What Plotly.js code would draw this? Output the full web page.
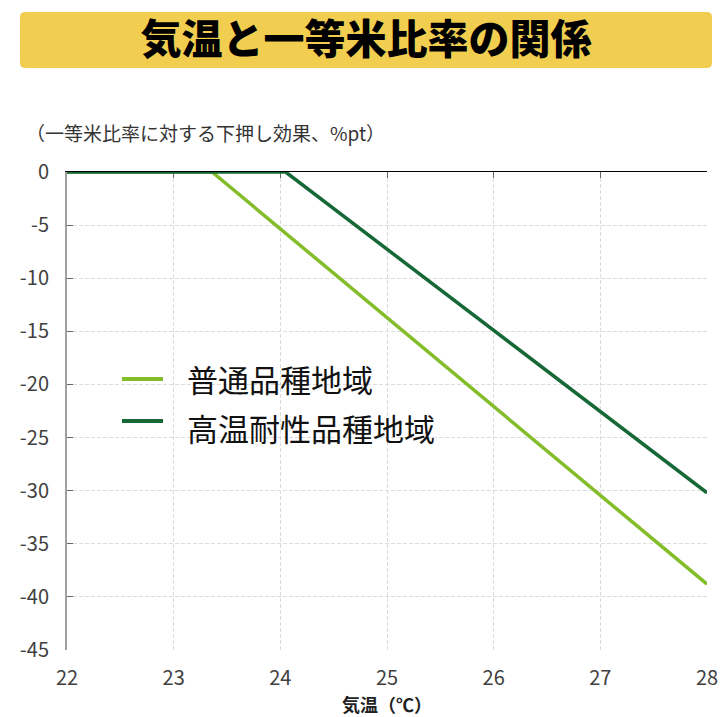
<!DOCTYPE html>
<html>
<head>
<meta charset="utf-8">
<script src="https://cdn.plot.ly/plotly-3.0.1.min.js"></script>
<style>
  html, body { margin: 0; padding: 0; background: #ffffff; }
  #chart { width: 727px; height: 717px; }
</style>
</head>
<body>
<div id="chart"></div>
<script>
// Temperature (°C) break points for each region type
const seriesNames = ['普通品種地域', '高温耐性品種地域'];
const tempNormal = [22, 23.36, 28];
const effectNormal = [0, 0, -38.8];
const tempTolerant = [22, 24.05, 28];
const effectTolerant = [0, 0, -30.2];
const xTicks = [22, 23, 24, 25, 26, 27, 28];
const yTicks = [0, -5, -10, -15, -20, -25, -30, -35, -40, -45];

const chartTitle = '気温と一等米比率の関係';
const yTitle = '（一等米比率に対する下押し効果、%pt）';
const xTitle = '気温（℃）';

const colors = ['#84bd2a', '#176837'];
const FONT = '"Noto Sans CJK JP", "Noto Sans", sans-serif';

// plot area geometry (px) used to place paper-referenced decorations
const W = 727, H = 717;
const M = { l: 67, r: 20, t: 172, b: 67 };
const PW = W - M.l - M.r, PH = H - M.t - M.b;
const px = x => (x - M.l) / PW;
const py = y => (H - M.b - y) / PH;

// rounded rectangle path in paper units
function roundRect(x0, y0, x1, y1, r) {
  const rx = r / PW, ry = r / PH;
  const L = px(x0), R = px(x1), T = py(y0), B = py(y1);
  return `M${L + rx},${T} L${R - rx},${T} Q${R},${T} ${R},${T - ry} ` +
         `L${R},${B + ry} Q${R},${B} ${R - rx},${B} L${L + rx},${B} ` +
         `Q${L},${B} ${L},${B + ry} L${L},${T - ry} Q${L},${T} ${L + rx},${T} Z`;
}

const traces = [
  { x: tempNormal, y: effectNormal, name: seriesNames[0], mode: 'lines',
    line: { color: colors[0], width: 3.5 }, hoverinfo: 'x+y' },
  { x: tempTolerant, y: effectTolerant, name: seriesNames[1], mode: 'lines',
    line: { color: colors[1], width: 3.5 }, hoverinfo: 'x+y' }
];

// hand-drawn legend entries
const legendRows = [
  { lineY: 379, textY: 378 },
  { lineY: 421, textY: 427 }
];

const shapes = [
  { type: 'path', xref: 'paper', yref: 'paper', path: roundRect(20, 12, 712, 68, 5),
    fillcolor: '#f2ce50', line: { width: 0 }, layer: 'below' }
];
const annotations = [
  { xref: 'paper', yref: 'paper', x: px(24), y: py(132), xanchor: 'left', yanchor: 'middle',
    text: yTitle, showarrow: false, font: { family: FONT, size: 19, color: '#333333' } }
];
legendRows.forEach((row, i) => {
  shapes.push({ type: 'line', xref: 'paper', yref: 'paper',
    x0: px(122), x1: px(163), y0: py(row.lineY), y1: py(row.lineY),
    line: { color: colors[i], width: 4 } });
  annotations.push({ xref: 'paper', yref: 'paper', x: px(185), y: py(row.textY),
    xanchor: 'left', yanchor: 'middle', text: seriesNames[i], showarrow: false,
    font: { family: FONT, size: 31, color: '#111111' } });
});

const layout = {
  width: W, height: H,
  margin: M,
  paper_bgcolor: '#ffffff', plot_bgcolor: '#ffffff',
  showlegend: false,
  font: { family: FONT, color: '#404040' },
  title: { text: chartTitle, x: 366 / W, xanchor: 'center', y: 1 - 40 / H, yanchor: 'middle',
    font: { family: FONT, size: 41, color: '#000000', weight: 900 } },
  xaxis: {
    range: [22, 28], tickvals: xTicks, ticktext: xTicks.map(String),
    showgrid: true, gridcolor: '#dcdcdc', griddash: '4px,2px', gridwidth: 1,
    zeroline: false, showline: false, ticks: '',
    tickfont: { family: FONT, size: 20, color: '#404040' },
    ticklabelstandoff: 14,
    title: { text: xTitle, standoff: 7, font: { family: FONT, size: 18, color: '#222222', weight: 'bold' } },
    fixedrange: true
  },
  xaxis2: {
    overlaying: 'x', side: 'top', anchor: 'y', range: [22, 28], matches: 'x',
    tickvals: xTicks, showticklabels: false, showgrid: false, zeroline: false,
    showline: true, linecolor: '#000000', linewidth: 1.5,
    ticks: 'inside', ticklen: 6, tickcolor: '#666666', tickwidth: 1,
    layer: 'below traces', fixedrange: true
  },
  yaxis: {
    range: [-45, 0], tickvals: yTicks, ticktext: yTicks.map(String),
    showgrid: true, gridcolor: '#dcdcdc', griddash: '4px,2px', gridwidth: 1,
    zeroline: false, showline: true, linecolor: '#a0a0a0', linewidth: 2,
    ticks: 'inside', ticklen: 6, tickcolor: '#666666', tickwidth: 1,
    tickfont: { family: FONT, size: 20, color: '#404040' },
    ticklabelstandoff: 12,
    fixedrange: true
  },
  shapes: shapes,
  annotations: annotations
};

// the tolerant-variety line also carries the top axis
traces[1].xaxis = 'x2';

Plotly.newPlot('chart', traces, layout, { displayModeBar: false, staticPlot: true });
</script>
</body>
</html>
